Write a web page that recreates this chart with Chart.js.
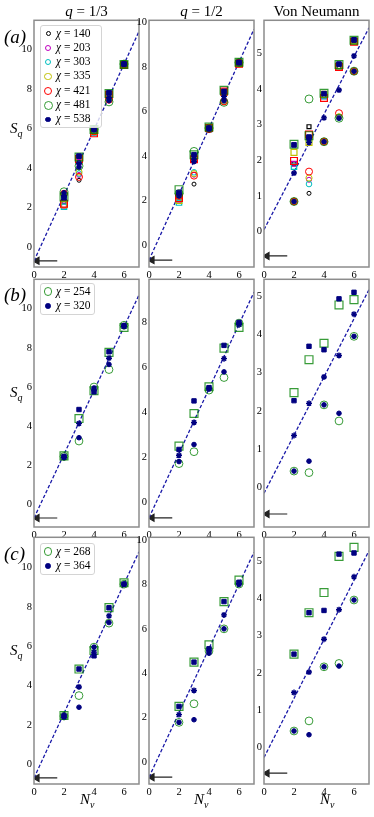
<!DOCTYPE html>
<html>
<head>
<meta charset="utf-8">
<script src="https://cdn.jsdelivr.net/npm/chart.js@4/dist/chart.umd.min.js"></script>
<style>
  body { margin:0; background:#fff; }
  #wrap { position:relative; width:374px; height:817px; overflow:hidden; }
  canvas { position:absolute; }
  .t { position:absolute; font-family:'Liberation Serif','DejaVu Serif',serif; color:#000; white-space:nowrap; line-height:1; }
  .ttl { font-size:15px; transform:translateX(-50%); }
  .lab { font-size:19px; font-style:italic; }
  .ax { font-size:15px; }
  .ax sub { font-size:10px; font-style:italic; }
  .leg { position:absolute; background:rgba(255,255,255,0.8); border:1px solid #d4d4d4; border-radius:3px; }
  .row { position:absolute; left:0; font-family:'Liberation Serif','DejaVu Serif',serif; font-size:11.5px; white-space:nowrap; line-height:1; }
  .mk { position:absolute; box-sizing:border-box; border-radius:50%; }
</style>
</head>
<body>
<div id="wrap"></div>
<script>
// shared axes data
const Nv = [2, 3, 4, 5, 6];
const xTicks = [0, 2, 4, 6];
const yTicksS = [0, 2, 4, 6, 8, 10];
const yTicksVN = [0, 1, 2, 3, 4, 5];
const fitX = [0, 7];
const arrowX = [1.55, 0.2];
const arrowLevel = -0.69;

const chiA = [140, 203, 303, 335, 421, 481, 538];
const chiB = [254, 320];
const chiC = [268, 364];

// (a) q=1/3, rows follow chiA
const a1Circ = [
  [2.6, 3.38, 5.9, 7.5, 9.2],
  [2.6, 3.65, 5.9, 7.5, 9.2],
  [2.6, 3.72, 5.9, 7.5, 9.2],
  [2.7, 3.8, 5.9, 7.45, 9.2],
  [2.7, 3.55, 5.85, 7.45, 9.25],
  [2.8, 4.1, 5.95, 7.34, 9.25],
  [2.75, 4.05, 5.95, 7.4, 9.25]
];
const a1Sq = [
  [2.3, 4.3, 5.8, 7.6, 9.2],
  [2.1, 4.3, 5.8, 7.6, 9.2],
  [2.04, 4.35, 5.8, 7.65, 9.2],
  [2.15, 4.4, 5.85, 7.7, 9.2],
  [2.2, 4.45, 5.75, 7.7, 9.2],
  [2.54, 4.56, 5.94, 7.76, 9.23],
  [2.5, 4.6, 5.95, 7.8, 9.25]
];
const a1Star = [2.6, 4.24, 5.95, 7.55, 9.25];
const a1Fit = [-0.69, 10.9];

// (a) q=1/2
const a2Circ = [
  [2.3, 2.73, 5.2, 6.45, 8.2],
  [2.2, 3.15, 5.2, 6.45, 8.2],
  [2.1, 3.26, 5.2, 6.45, 8.2],
  [2.2, 3.2, 5.2, 6.45, 8.2],
  [2.2, 3.11, 5.2, 6.45, 8.2],
  [2.3, 4.2, 5.25, 6.41, 8.2],
  [2.3, 3.85, 5.25, 6.5, 8.2]
];
const a2Sq = [
  [2.2, 3.8, 5.2, 6.8, 8.15],
  [2.0, 3.85, 5.2, 6.8, 8.15],
  [1.9, 3.85, 5.2, 6.85, 8.15],
  [2.0, 3.9, 5.25, 6.85, 8.15],
  [2.1, 3.85, 5.25, 6.9, 8.15],
  [2.48, 4.05, 5.3, 6.95, 8.21],
  [2.35, 4.05, 5.25, 6.9, 8.2]
];
const a2Star = [2.2, 3.75, 5.2, 6.68, 8.2];
const a2Fit = [-0.69, 9.7];

// (a) Von Neumann
const a3Circ = [
  [0.84, 1.07, 2.52, 3.18, 4.5],
  [0.84, 1.45, 2.52, 3.2, 4.5],
  [0.84, 1.33, 2.52, 3.2, 4.5],
  [0.84, 1.5, 2.52, 3.22, 4.5],
  [0.84, 1.68, 2.52, 3.32, 4.5],
  [0.84, 3.72, 2.52, 3.18, 4.5],
  [0.84, 2.62, 2.52, 3.18, 4.5]
];
const a3Sq = [
  [1.9, 2.94, 3.8, 4.6, 5.35],
  [1.9, 2.6, 3.8, 4.62, 5.35],
  [1.82, 2.6, 3.8, 4.62, 5.35],
  [2.22, 2.5, 3.85, 4.65, 5.35],
  [1.98, 2.72, 3.75, 4.62, 5.33],
  [2.45, 2.69, 3.88, 4.69, 5.37],
  [2.43, 2.65, 3.87, 4.7, 5.38]
];
const a3Star = [1.64, 2.5, 3.19, 3.97, 4.93];
const a3Fit = [0.05, 5.72];

// (b) rows follow chiB
const b1Circ = [[2.45, 3.24, 6.0, 6.89, 9.15], [2.45, 3.41, 5.95, 7.15, 9.15]];
const b1Sq = [[2.48, 4.39, 5.81, 7.77, 9.04], [2.45, 4.85, 5.75, 7.8, 9.12]];
const b1Star = [2.4, 4.14, 5.85, 7.47, 9.1];
const b1Fit = [-0.69, 10.7];

const b2Circ = [[1.72, 2.25, 4.99, 5.55, 7.97], [1.81, 2.57, 5.05, 5.8, 7.97]];
const b2Sq = [[2.5, 3.95, 5.14, 6.86, 7.78], [2.35, 4.51, 5.1, 6.98, 8.0]];
const b2Star = [2.09, 3.55, 5.05, 6.39, 7.9];
const b2Fit = [-0.69, 9.35];

const b3Circ = [[0.43, 0.39, 2.16, 1.74, 3.95], [0.43, 0.69, 2.16, 1.94, 3.95]];
const b3Sq = [[2.48, 3.34, 3.77, 4.77, 4.91], [2.27, 3.69, 3.6, 4.93, 5.1]];
const b3Star = [1.36, 2.2, 2.89, 3.45, 4.53];
const b3Fit = [-0.15, 5.17];

// (c) rows follow chiC
const c1Circ = [[2.45, 3.49, 5.95, 7.17, 9.15], [2.5, 2.9, 5.95, 7.2, 9.15]];
const c1Sq = [[2.48, 4.84, 5.78, 7.96, 9.22], [2.45, 4.84, 5.51, 7.95, 9.15]];
const c1Star = [2.4, 3.93, 5.7, 7.54, 9.15];
const c1Fit = [-0.69, 10.8];

const c2Circ = [[1.78, 2.62, 5.0, 6.0, 8.02], [1.78, 1.9, 4.9, 6.0, 8.0]];
const c2Sq = [[2.5, 4.5, 5.28, 7.23, 8.2], [2.5, 4.5, 5.1, 7.23, 8.1]];
const c2Star = [2.13, 3.22, 5.0, 6.63, 8.05];
const c2Fit = [-0.69, 9.46];

const c3Circ = [[0.44, 0.71, 2.16, 2.25, 3.95], [0.44, 0.34, 2.16, 2.18, 3.95]];
const c3Sq = [[2.5, 3.61, 4.15, 5.12, 5.36], [2.5, 3.61, 3.67, 5.18, 5.21]];
const c3Star = [1.47, 2.02, 2.9, 3.69, 4.57];
const c3Fit = [-0.27, 5.27];

// axis ranges
const yLim = {
  a1: [-1, 11.46], a2: [-1, 10.1], a3: [-1, 5.93],
  b1: [-1.15, 11.5], b2: [-1.1, 9.92], b3: [-1.03, 5.44],
  c1: [-1, 11.53], c2: [-1, 10.13], c3: [-0.98, 5.63]
};

// styles
const NAVY = '#000080';
const GREEN = 'rgba(0,128,0,0.78)';
const colA = ['#000000', '#bf00bf', '#00bfbf', '#bfbf00', '#ff0000', GREEN, NAVY];
const circRA = [2, 2.5, 2.8, 3.1, 3.5, 4, 2.3];
const sqRA = [2.8, 3.4, 3.8, 4.2, 4.8, 5.5, 3.3];
const colBC = [GREEN, NAVY];
const circRBC = [3.9, 2.3];
const sqRBC = [5.6, 3.1];

const cols = [{l: 34, r: 139}, {l: 149, r: 254}, {l: 264, r: 369}];
const rows = [{t: 20, b: 267}, {t: 279, b: 527}, {t: 537, b: 784}];
const FONT = "'Liberation Serif','DejaVu Serif',serif";
const YW = 28, XH = 14, PT = 8, PR = 4;

function pts(vals, style, color, filled, r, bw) {
  return {
    data: Nv.map((n, i) => ({x: n, y: vals[i]})),
    pointStyle: style,
    pointRadius: r,
    pointBorderColor: color,
    borderColor: color,
    pointBackgroundColor: filled ? color : 'rgba(0,0,0,0)',
    backgroundColor: filled ? color : 'rgba(0,0,0,0)',
    pointBorderWidth: bw || 1,
    showLine: false
  };
}

function buildSets(circ, sq, star, fit, colors, cR, sR) {
  const sets = [];
  const last = circ.length - 1;
  // first in list ends up on top
  sets.push(pts(star, 'star', NAVY, false, 3, 1.4));
  sets.push(pts(sq[last], 'rect', colors[last], true, sR[last]));
  sets.push(pts(circ[last], 'circle', colors[last], true, cR[last]));
  for (let k = last - 1; k >= 0; k--) {
    sets.push(pts(circ[k], 'circle', colors[k], false, cR[k]));
    sets.push(pts(sq[k], 'rect', colors[k], false, sR[k], 1.2));
  }
  sets.push({
    data: fitX.map((x, i) => ({x: x, y: fit[i]})),
    showLine: true, borderColor: '#1a1aa8', borderWidth: 1.3, borderDash: [3.5, 2],
    pointRadius: 0
  });
  sets.push({
    data: arrowX.map(x => ({x: x, y: arrowLevel})),
    showLine: true, borderColor: '#222', borderWidth: 1.2,
    pointRadius: [0, 4], pointStyle: 'triangle', pointRotation: -90,
    pointBackgroundColor: '#222', pointBorderColor: '#222'
  });
  return sets;
}

const framePlugin = {
  id: 'frame',
  afterDatasetsDraw(chart) {
    const a = chart.chartArea, c = chart.ctx;
    c.save();
    c.strokeStyle = '#8c8c8c';
    c.lineWidth = 1.5;
    c.strokeRect(a.left, a.top, a.right - a.left, a.bottom - a.top);
    c.restore();
  }
};

const wrap = document.getElementById('wrap');

function panel(ri, ci, sets, lim, yTicks) {
  const col = cols[ci], row = rows[ri];
  const w = col.r - col.l + YW + PR;
  const h = row.b - row.t + PT + XH;
  const cv = document.createElement('canvas');
  cv.width = w; cv.height = h;
  cv.style.left = (col.l - YW) + 'px';
  cv.style.top = (row.t - PT) + 'px';
  cv.style.width = w + 'px'; cv.style.height = h + 'px';
  wrap.appendChild(cv);
  const tickFont = {family: FONT, size: 10.5};
  new Chart(cv.getContext('2d'), {
    type: 'scatter',
    data: {datasets: sets},
    plugins: [framePlugin],
    options: {
      responsive: false, animation: false,
      layout: {padding: {top: PT, right: PR, left: 0, bottom: 0}, autoPadding: false},
      plugins: {legend: {display: false}, tooltip: {enabled: false}},
      scales: {
        x: {
          type: 'linear', min: 0, max: 7,
          grid: {display: false, drawTicks: false}, border: {display: false},
          ticks: {font: tickFont, color: '#000', padding: 2, maxRotation: 0, callback: v => String(v)},
          afterBuildTicks: s => { s.ticks = xTicks.map(v => ({value: v})); },
          afterFit: s => { s.height = XH; }
        },
        y: {
          type: 'linear', min: lim[0], max: lim[1],
          grid: {display: false, drawTicks: false}, border: {display: false},
          ticks: {font: tickFont, color: '#000', padding: 2, callback: v => String(v)},
          afterBuildTicks: s => { s.ticks = yTicks.filter(v => v <= lim[1]).map(v => ({value: v})); },
          afterFit: s => { s.width = YW; }
        }
      }
    }
  });
}

panel(0, 0, buildSets(a1Circ, a1Sq, a1Star, a1Fit, colA, circRA, sqRA), yLim.a1, yTicksS);
panel(0, 1, buildSets(a2Circ, a2Sq, a2Star, a2Fit, colA, circRA, sqRA), yLim.a2, yTicksS);
panel(0, 2, buildSets(a3Circ, a3Sq, a3Star, a3Fit, colA, circRA, sqRA), yLim.a3, yTicksVN);
panel(1, 0, buildSets(b1Circ, b1Sq, b1Star, b1Fit, colBC, circRBC, sqRBC), yLim.b1, yTicksS);
panel(1, 1, buildSets(b2Circ, b2Sq, b2Star, b2Fit, colBC, circRBC, sqRBC), yLim.b2, yTicksS);
panel(1, 2, buildSets(b3Circ, b3Sq, b3Star, b3Fit, colBC, circRBC, sqRBC), yLim.b3, yTicksVN);
panel(2, 0, buildSets(c1Circ, c1Sq, c1Star, c1Fit, colBC, circRBC, sqRBC), yLim.c1, yTicksS);
panel(2, 1, buildSets(c2Circ, c2Sq, c2Star, c2Fit, colBC, circRBC, sqRBC), yLim.c2, yTicksS);
panel(2, 2, buildSets(c3Circ, c3Sq, c3Star, c3Fit, colBC, circRBC, sqRBC), yLim.c3, yTicksVN);

// text overlays
function txt(html, cls, left, top) {
  const d = document.createElement('div');
  d.className = 't ' + cls;
  d.innerHTML = html;
  d.style.left = left + 'px';
  d.style.top = top + 'px';
  wrap.appendChild(d);
}
txt('<i>q</i> = 1/3', 'ttl', 86.5, 4);
txt('<i>q</i> = 1/2', 'ttl', 201.5, 4);
txt('Von Neumann', 'ttl', 316.5, 4);
txt('(<i>a</i>)', 'lab', 4, 27);
txt('(<i>b</i>)', 'lab', 4, 285);
txt('(<i>c</i>)', 'lab', 4, 544);
[121, 385, 643].forEach(y => txt('<i>S</i><sub>q</sub>', 'ax', 10, y));
[88, 202, 328].forEach(x => txt('<i>N</i><sub>v</sub>', 'ax', x - 8, 792));

function legend(left, top, width, chis, colors, radii, filledLast) {
  const box = document.createElement('div');
  box.className = 'leg';
  const step = 14.3;
  box.style.left = left + 'px'; box.style.top = top + 'px';
  box.style.width = width + 'px'; box.style.height = (chis.length * step + 1) + 'px';
  chis.forEach((chi, k) => {
    const cy = 7.5 + k * step;
    const r = radii[k] + 0.5;
    const m = document.createElement('span');
    m.className = 'mk';
    const filled = filledLast && k === chis.length - 1;
    m.style.width = (2 * r) + 'px'; m.style.height = (2 * r) + 'px';
    m.style.left = (7 - r) + 'px'; m.style.top = (cy - r) + 'px';
    m.style.border = '1px solid ' + colors[k];
    if (filled) m.style.background = colors[k];
    box.appendChild(m);
    const t = document.createElement('div');
    t.className = 'row';
    t.style.left = '15px'; t.style.top = (cy - 6) + 'px';
    t.innerHTML = '<i>χ</i> = ' + chi;
    box.appendChild(t);
  });
  wrap.appendChild(box);
}
legend(40, 25, 60, chiA, colA, circRA, true);
legend(40, 283, 53, chiB, colBC, circRBC, true);
legend(40, 543, 53, chiC, colBC, circRBC, true);
</script>
</body>
</html>
